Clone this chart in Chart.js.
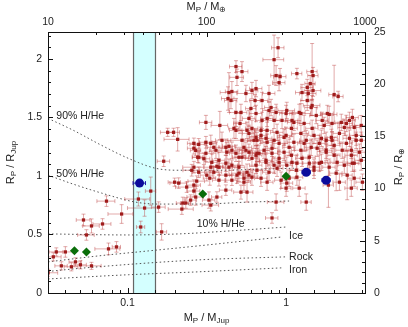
<!DOCTYPE html>
<html>
<head>
<meta charset="utf-8">
<script src="https://cdn.jsdelivr.net/npm/chart.js@4.4.1/dist/chart.umd.min.js"></script>
<style>
html, body { margin: 0; padding: 0; background: #fff; }
canvas { display: block; }
</style>
</head>
<body>
<canvas id="massRadius" width="408" height="327"></canvas>
<script>

// ==========================
// DATA
// ==========================

// axis ranges (Jupiter units bottom/left, Earth units top/right)
const massRangeJup = [0.03147, 3.147];
const massRangeEarth = [10, 1000];
const radiusRangeJup = [0, 2.2304];
const radiusRangeEarth = [0, 25];

const bottomTickLabels = [0.1, 1];
const topTickLabels = [10, 100, 1000];
const leftTickLabels = [0, 0.5, 1, 1.5, 2];
const rightTickLabels = [0, 5, 10, 15, 20, 25];

// shaded mass window (M_Jup)
const bandMass = [0.109, 0.150];

// [mass M_Jup, radius R_Jup, mass error (fraction), radius error R_Jup]
const transitPlanets = [
    [0.0315,0.173,0.15,0.03],[0.034,0.309,0.12,0.035],[0.0355,0.351,0.10,0.035],
    [0.0405,0.351,0.12,0.045],[0.0382,0.232,0.09,0.035],[0.0442,0.224,0.10,0.035],
    [0.0469,0.266,0.09,0.035],[0.0504,0.241,0.09,0.035],[0.0592,0.232,0.15,0.03],
    [0.0527,0.624,0.10,0.05],[0.0592,0.573,0.12,0.06],[0.0695,0.590,0.13,0.045],
    [0.055,0.496,0.12,0.045],[0.0736,0.785,0.13,0.045],[0.0917,0.675,0.18,0.08],
    [0.0758,0.377,0.18,0.05],[0.0851,0.394,0.06,0.045],[0.117,0.803,0.18,0.06],
    [0.128,0.726,0.22,0.07],[0.140,0.871,0.075,0.12],[0.121,0.564,0.06,0.05],
    [0.164,0.522,0.075,0.07],[0.157,0.734,0.10,0.045],[0.169,1.126,0.09,0.045],
    [0.179,1.373,0.10,0.035],[0.195,1.373,0.09,0.035],[0.207,1.313,0.18,0.10],
    [0.262,1.279,0.09,0.045],[0.269,1.219,0.075,0.045],[0.277,1.160,0.075,0.045],
    [0.262,1.075,0.15,0.05],[0.198,0.947,0.09,0.035],[0.210,0.939,0.12,0.045],
    [0.236,0.905,0.15,0.045],[0.262,0.922,0.10,0.045],[0.269,0.820,0.12,0.07],
    [0.220,0.717,0.18,0.045],[0.233,0.769,0.075,0.045],[0.250,0.794,0.09,0.045],
    [0.223,0.769,0.09,0.05],[0.273,0.956,0.12,0.045],[0.312,1.458,0.09,0.06],
    [0.382,1.432,0.12,0.12],[0.330,0.981,0.09,0.06],[0.316,1.007,0.09,0.05],
    [0.335,0.751,0.12,0.05],[0.326,0.794,0.09,0.07],[0.366,0.820,0.075,0.045],
    [0.417,0.879,0.09,0.045],[0.254,1.049,0.12,0.05],[0.281,1.032,0.09,0.045],
    [0.377,0.964,0.09,0.05],[0.350,1.032,0.12,0.05],[0.377,1.075,0.075,0.07],
    [0.417,1.007,0.09,0.06],[0.436,1.075,0.09,0.07],[0.490,1.007,0.10,0.07],
    [0.542,0.981,0.12,0.06],[0.583,1.007,0.09,0.05],[0.504,1.075,0.09,0.05],
    [0.455,0.964,0.09,0.045],[0.504,1.024,0.10,0.07],[0.567,1.032,0.09,0.07],
    [0.609,0.990,0.09,0.07],[0.542,0.947,0.10,0.07],[0.519,0.862,0.10,0.06],
    [0.567,0.862,0.09,0.085],[0.646,1.092,0.09,0.07],[0.455,1.092,0.09,0.045],
    [0.423,1.203,0.12,0.085],[0.483,1.194,0.09,0.07],[0.527,1.160,0.10,0.07],
    [0.583,1.203,0.09,0.07],[0.646,1.177,0.09,0.08],[0.417,1.245,0.10,0.07],
    [0.542,1.245,0.12,0.07],[0.281,1.270,0.12,0.05],[0.312,1.288,0.09,0.05],
    [0.350,1.245,0.09,0.05],[0.436,1.254,0.09,0.05],[0.527,1.305,0.15,0.085],
    [0.469,1.407,0.075,0.085],[0.512,1.449,0.09,0.085],[0.567,1.390,0.12,0.07],
    [0.609,1.407,0.09,0.07],[0.646,1.330,0.09,0.07],[0.483,1.935,0.09,0.05],
    [0.527,1.892,0.09,0.085],[0.490,1.843,0.10,0.07],[0.436,1.713,0.12,0.17],
    [0.455,1.722,0.09,0.085],[0.558,1.705,0.12,0.07],[0.609,1.730,0.09,0.07],
    [0.646,1.747,0.09,0.07],[0.430,1.662,0.09,0.10],[0.449,1.645,0.09,0.07],
    [0.600,1.577,0.075,0.07],[0.637,1.645,0.075,0.05],[0.483,1.543,0.09,0.12],
    [0.519,1.543,0.09,0.07],[0.890,2.096,0.09,0.085],[0.840,1.994,0.15,0.21],
    [0.865,1.858,0.075,0.085],[0.916,1.849,0.09,0.07],[0.903,1.798,0.09,0.07],
    [1.17,1.875,0.075,0.045],[1.46,1.892,0.075,0.24],[1.48,1.858,0.075,0.07],
    [1.42,1.790,0.075,0.07],[1.36,1.756,0.09,0.07],[1.26,1.713,0.09,0.07],
    [1.38,1.705,0.12,0.07],[1.48,1.730,0.12,0.05],[2.01,1.696,0.075,0.25],
    [2.13,1.679,0.075,0.045],[0.780,1.705,0.09,0.07],[0.705,1.645,0.09,0.07],
    [0.804,1.585,0.09,0.07],[1.01,1.560,0.12,0.07],[0.865,1.543,0.09,0.07],
    [1.36,1.645,0.09,0.085],[1.46,1.603,0.12,0.085],[1.24,1.534,0.15,0.085],
    [1.87,1.526,0.12,0.07],[0.759,1.492,0.09,0.07],[0.840,1.475,0.09,0.07],
    [0.943,1.475,0.09,0.07],[1.12,1.458,0.09,0.07],[1.30,1.449,0.09,0.07],
    [1.46,1.407,0.09,0.07],[1.74,1.432,0.09,0.07],[2.23,1.458,0.09,0.07],
    [2.33,1.415,0.09,0.07],[2.69,1.415,0.09,0.07],[2.51,1.475,0.09,0.07],
    [2.98,1.432,0.09,0.085],[0.695,1.390,0.09,0.07],[0.759,1.390,0.09,0.07],
    [0.877,1.373,0.09,0.07],[1.00,1.347,0.09,0.07],[1.08,1.407,0.09,0.07],
    [1.24,1.364,0.12,0.07],[1.34,1.305,0.09,0.085],[1.50,1.347,0.09,0.07],
    [1.67,1.322,0.09,0.07],[1.79,1.305,0.09,0.07],[1.93,1.330,0.09,0.07],
    [2.17,1.364,0.09,0.085],[2.51,1.322,0.09,0.07],[2.77,1.347,0.09,0.085],
    [2.98,1.305,0.09,0.07],[0.655,1.305,0.09,0.07],[0.747,1.322,0.09,0.07],
    [0.840,1.305,0.09,0.07],[1.12,1.288,0.09,0.07],[1.44,1.245,0.09,0.07],
    [2.01,1.262,0.09,0.07],[2.40,1.279,0.09,0.07],[0.655,1.194,0.09,0.07],
    [0.726,1.220,0.09,0.07],[0.815,1.237,0.09,0.07],[0.903,1.151,0.09,0.07],
    [0.971,1.203,0.09,0.07],[1.08,1.177,0.09,0.07],[1.24,1.220,0.09,0.07],
    [1.40,1.160,0.09,0.07],[1.57,1.237,0.09,0.07],[1.79,1.203,0.09,0.07],
    [2.01,1.177,0.09,0.07],[2.26,1.220,0.09,0.07],[2.58,1.177,0.09,0.07],
    [2.90,1.203,0.09,0.07],[2.98,1.134,0.09,0.085],[2.62,1.109,0.09,0.07],
    [2.33,1.092,0.09,0.07],[2.10,1.117,0.09,0.07],[1.87,1.075,0.09,0.07],
    [1.67,1.117,0.09,0.07],[1.50,1.075,0.09,0.07],[1.17,1.109,0.09,0.07],
    [1.01,1.092,0.09,0.07],[0.840,1.092,0.09,0.07],[0.747,1.117,0.09,0.07],
    [0.655,1.049,0.09,0.07],[0.780,1.032,0.09,0.07],[0.877,1.066,0.09,0.07],
    [1.16,1.049,0.09,0.07],[0.695,0.981,0.09,0.07],[0.759,0.947,0.09,0.07],
    [0.930,0.964,0.09,0.07],[1.01,0.939,0.09,0.07],[1.00,0.896,0.075,0.07],
    [1.21,0.896,0.09,0.07],[2.43,1.007,0.075,0.21],[2.69,0.981,0.09,0.07],
    [3.03,0.947,0.09,0.07],[2.58,0.896,0.09,0.07],[2.17,0.947,0.09,0.07],
    [0.865,0.777,0.12,0.07],[1.34,0.777,0.075,0.07],[0.815,0.641,0.09,0.045],
    [1.50,1.049,0.09,0.07],[1.62,1.109,0.09,0.07],[2.07,1.024,0.09,0.15],
    [2.69,1.109,0.09,0.07],[1.045,0.981,0.09,0.07],[1.17,0.990,0.09,0.07],
    [0.303,1.147,0.09,0.05],[0.335,1.075,0.09,0.05],[0.366,1.083,0.09,0.05],
    [0.262,1.237,0.09,0.05],[0.281,1.160,0.09,0.05],[0.583,1.492,0.09,0.07],
    [0.646,1.534,0.09,0.07],[0.705,1.475,0.09,0.07],[0.780,1.560,0.09,0.07],
    [1.00,1.534,0.09,0.07],[1.09,1.475,0.09,0.07],[1.21,1.543,0.09,0.07],
    [1.44,1.585,0.09,0.07],[1.55,1.517,0.09,0.07],[1.69,1.475,0.09,0.07],
    [1.82,1.534,0.09,0.07],[1.95,1.449,0.09,0.07],[2.40,1.449,0.09,0.07],
    [2.62,1.500,0.09,0.07],[0.483,1.390,0.09,0.07],[0.583,1.364,0.09,0.07],
    [0.627,1.305,0.09,0.07],[0.695,1.347,0.09,0.07],[0.759,1.288,0.09,0.07],
    [0.903,1.279,0.09,0.07],[0.971,1.330,0.09,0.07],[1.045,1.245,0.09,0.07],
    [1.30,1.279,0.09,0.07],[1.62,1.279,0.09,0.07],[1.79,1.220,0.09,0.07],
    [1.95,1.305,0.09,0.07],[2.58,1.220,0.09,0.07],[2.77,1.305,0.09,0.07],
    [0.455,1.220,0.09,0.07],[0.504,1.160,0.09,0.07],[0.558,1.220,0.09,0.07],
    [0.609,1.151,0.09,0.07],[0.675,1.194,0.09,0.07],[0.747,1.134,0.09,0.07],
    [0.815,1.194,0.09,0.07],[0.903,1.117,0.09,0.07],[1.09,1.117,0.09,0.07],
    [1.26,1.151,0.09,0.07],[1.40,1.109,0.09,0.07],[0.394,1.305,0.09,0.07],
    [0.361,1.220,0.09,0.07],[0.335,1.279,0.09,0.07],[0.377,1.134,0.09,0.07],
    [0.417,1.109,0.09,0.07],[0.340,1.117,0.09,0.07],[0.312,1.194,0.09,0.07],
    [0.262,0.871,0.09,0.05],[1.85,0.922,0.075,0.19]
];

// highlighted planets
const bluePlanets = [
    [0.119, 0.939, 0.09, 0.02],
    [1.34, 1.032, 0.06, 0.02],
    [1.79, 0.964, 0.06, 0.02]
];

const greenPlanets = [
    [0.0462, 0.360],
    [0.0550, 0.351],
    [0.298, 0.845],
    [1.00, 0.998]
];

// model curves [mass M_Jup, radius R_Jup]
const curve90HHe = [[0.0315,1.492],[0.0455,1.39],[0.0685,1.262],[0.101,1.151],[0.150,1.066],[0.210,1.049],[0.377,1.049],[0.675,1.058],[1.12,1.066]];
const curve50HHe = [[0.0315,1.007],[0.0455,0.930],[0.0685,0.854],[0.112,0.777],[0.157,0.760],[0.281,0.760],[0.583,0.777],[1.045,0.786]];
const curve10HHe = [[0.0315,0.505],[0.101,0.496],[0.210,0.505],[0.436,0.530],[1.00,0.564]];
const curveIce = [[0.0315,0.266],[0.0655,0.317],[0.136,0.360],[0.281,0.403],[0.943,0.479]];
const curveRock = [[0.0315,0.184],[0.0542,0.215],[0.281,0.283],[1.00,0.309]];
const curveIron = [[0.0315,0.12],[0.101,0.156],[0.281,0.181],[0.943,0.215]];

const curveLabels = [
    ["90% H/He", 0.0355, 1.509],
    ["50% H/He", 0.0355, 1.02],
    ["10% H/He", 0.273, 0.590],
    ["Ice", 1.045, 0.488],
    ["Rock", 1.045, 0.309],
    ["Iron", 1.045, 0.198]
];



// ==========================
// HELPERS
// ==========================

const FONT = "'Liberation Sans', Arial, Helvetica, sans-serif";

function toPoints(rows) {
    return rows.map(r => ({ x: r[0], y: r[1] }));
}

function curveDataset(rows) {
    return {
        type: "line",
        data: toPoints(rows),
        showLine: true,
        borderColor: "#555",
        borderWidth: 1,
        borderDash: [1.5, 2.5],
        pointRadius: 0,
        cubicInterpolationMode: "monotone",
        fill: false,
        order: 5
    };
}

function sameValue(a, b) {
    return Math.abs(a - b) <= 1e-6 * Math.max(Math.abs(a), Math.abs(b), 1e-9);
}

// draws "M_P / M_Jup" style text, parts = [text, isSubscript]
function drawSubText(ctx, parts, cx, cy, angle) {

    const big = "11px " + FONT;
    const small = "8px " + FONT;

    let width = 0;
    parts.forEach(p => {
        ctx.font = p[1] ? small : big;
        width += ctx.measureText(p[0]).width;
    });

    ctx.save();
    ctx.translate(cx, cy);
    ctx.rotate(angle);
    ctx.fillStyle = "#222";
    ctx.textBaseline = "middle";
    ctx.textAlign = "left";

    let x = -width / 2;
    parts.forEach(p => {
        ctx.font = p[1] ? small : big;
        ctx.fillText(p[0], x, p[1] ? 3 : 0);
        x += ctx.measureText(p[0]).width;
    });
    ctx.restore();
}



// ==========================
// PLUGINS
// ==========================

const bandPlugin = {
    id: "massBand",
    beforeDatasetsDraw(chart) {
        const ctx = chart.ctx;
        const area = chart.chartArea;
        const xs = chart.scales.x;
        const x0 = xs.getPixelForValue(bandMass[0]);
        const x1 = xs.getPixelForValue(bandMass[1]);

        ctx.save();
        ctx.fillStyle = "#d4ffff";
        ctx.fillRect(x0, area.top, x1 - x0, area.bottom - area.top);
        ctx.strokeStyle = "#666";
        ctx.lineWidth = 1.2;
        ctx.beginPath();
        ctx.moveTo(x0, area.top);
        ctx.lineTo(x0, area.bottom);
        ctx.moveTo(x1, area.top);
        ctx.lineTo(x1, area.bottom);
        ctx.stroke();
        ctx.restore();
    }
};

const errorBarPlugin = {
    id: "errorBars",
    beforeDatasetDraw(chart, args) {
        const ds = chart.data.datasets[args.index];
        if (!ds.errorRows) {
            return;
        }
        const ctx = chart.ctx;
        const area = chart.chartArea;
        const xs = chart.scales.x;
        const ys = chart.scales.y;
        const cap = 2;

        ctx.save();
        ctx.beginPath();
        ctx.rect(area.left, area.top, area.right - area.left, area.bottom - area.top);
        ctx.clip();
        ctx.lineWidth = 1;
        ctx.strokeStyle = ds.errorColor;

        ds.errorRows.forEach(row => {
            const px = xs.getPixelForValue(row[0]);
            const py = ys.getPixelForValue(row[1]);
            const xa = xs.getPixelForValue(row[0] * (1 - row[2]));
            const xb = xs.getPixelForValue(row[0] * (1 + row[2]));
            const ya = ys.getPixelForValue(row[1] - row[3]);
            const yb = ys.getPixelForValue(row[1] + row[3]);

            ctx.beginPath();
            ctx.moveTo(xa, py); ctx.lineTo(xb, py);
            ctx.moveTo(xa, py - cap); ctx.lineTo(xa, py + cap);
            ctx.moveTo(xb, py - cap); ctx.lineTo(xb, py + cap);
            ctx.moveTo(px, ya); ctx.lineTo(px, yb);
            ctx.moveTo(px - cap, ya); ctx.lineTo(px + cap, ya);
            ctx.moveTo(px - cap, yb); ctx.lineTo(px + cap, yb);
            ctx.stroke();
        });
        ctx.restore();
    }
};

const framePlugin = {
    id: "frameAndTicks",
    afterDatasetsDraw(chart) {
        const ctx = chart.ctx;
        const area = chart.chartArea;
        const s = chart.scales;

        ctx.save();

        // curve labels
        ctx.fillStyle = "#222";
        ctx.font = "10.5px " + FONT;
        ctx.textBaseline = "middle";
        ctx.textAlign = "left";
        curveLabels.forEach(l => {
            ctx.fillText(l[0], s.x.getPixelForValue(l[1]), s.y.getPixelForValue(l[2]));
        });

        ctx.strokeStyle = "#111";
        ctx.lineWidth = 1;
        ctx.beginPath();

        // log ticks, bottom and top
        [[s.x, area.bottom, -1, bottomTickLabels], [s.x2, area.top, 1, topTickLabels]].forEach(cfg => {
            const scale = cfg[0];
            scale.ticks.forEach(t => {
                const major = cfg[3].some(v => sameValue(v, t.value));
                const len = major ? 5 : 3;
                const px = Math.round(scale.getPixelForValue(t.value)) + 0.5;
                if (px < area.left || px > area.right + 1) return;
                ctx.moveTo(px, cfg[1]);
                ctx.lineTo(px, cfg[1] + cfg[2] * len);
            });
        });

        // linear ticks, left and right
        for (let i = 0; i <= 22; i++) {
            const v = i / 10;
            const py = Math.round(s.y.getPixelForValue(v)) + 0.5;
            const len = (i % 5 === 0) ? 5 : 3;
            ctx.moveTo(area.left, py);
            ctx.lineTo(area.left + len, py);
        }
        for (let i = 0; i <= 25; i++) {
            const py = Math.round(s.y2.getPixelForValue(i)) + 0.5;
            const len = (i % 5 === 0) ? 5 : 3;
            ctx.moveTo(area.right, py);
            ctx.lineTo(area.right - len, py);
        }
        ctx.stroke();

        // frame
        ctx.strokeRect(Math.round(area.left) + 0.5, Math.round(area.top) + 0.5,
            Math.round(area.right - area.left), Math.round(area.bottom - area.top));
        ctx.restore();
    },
    afterDraw(chart) {
        const ctx = chart.ctx;
        const area = chart.chartArea;
        const cx = (area.left + area.right) / 2;
        const cy = (area.top + area.bottom) / 2;

        drawSubText(ctx, [["M", false], ["P", true], [" / M", false], ["Jup", true]], cx, 318, 0);
        drawSubText(ctx, [["M", false], ["P", true], [" / M", false], ["\u2295", true]], cx, 7, 0);
        drawSubText(ctx, [["R", false], ["P", true], [" / R", false], ["Jup", true]], 11, cy, -Math.PI / 2);
        drawSubText(ctx, [["R", false], ["P", true], [" / R", false], ["\u2295", true]], 399, cy + 4, -Math.PI / 2);
    }
};



// ==========================
// CHART
// ==========================

const tickFont = { family: FONT, size: 10.5 };

function labelFrom(list) {
    return function (value) {
        const hit = list.find(v => sameValue(v, value));
        return hit === undefined ? "" : String(hit);
    };
}

// no chart.js grid or tick marks, ticks are drawn by framePlugin
const noGrid = { display: false, drawTicks: false };

const ctxCanvas = document.getElementById("massRadius");

new Chart(ctxCanvas, {

    type: "scatter",

    data: {
        datasets: [
            curveDataset(curve90HHe),
            curveDataset(curve50HHe),
            curveDataset(curve10HHe),
            curveDataset(curveIce),
            curveDataset(curveRock),
            curveDataset(curveIron),
            {
                data: toPoints(transitPlanets),
                errorRows: transitPlanets,
                errorColor: "rgba(185, 55, 55, 0.42)",
                pointStyle: "rect",
                pointRadius: 2.3,
                backgroundColor: "#a01c1c",
                borderColor: "#a01c1c",
                borderWidth: 0,
                order: 3
            },
            {
                data: toPoints(bluePlanets),
                errorRows: bluePlanets,
                errorColor: "#1a1aa8",
                pointStyle: "circle",
                pointRadius: 4.5,
                backgroundColor: "#0c0c9c",
                borderColor: "#0c0c9c",
                borderWidth: 0,
                order: 1
            },
            {
                data: toPoints(greenPlanets),
                pointStyle: "rectRot",
                pointRadius: 4.5,
                backgroundColor: "#0a6e0a",
                borderColor: "#0a6e0a",
                borderWidth: 0,
                order: 0
            }
        ]
    },

    options: {

        responsive: false,
        animation: false,
        events: [],

        layout: { padding: 0 },

        plugins: {
            legend: { display: false },
            tooltip: { enabled: false }
        },

        scales: {

            x: {
                type: "logarithmic",
                position: "bottom",
                min: massRangeJup[0],
                max: massRangeJup[1],
                grid: noGrid,
                border: { display: false },
                ticks: {
                    autoSkip: false, maxRotation: 0, padding: 4,
                    color: "#222", font: tickFont,
                    callback: labelFrom(bottomTickLabels)
                },
                afterFit: scale => { scale.height = 34; }
            },

            x2: {
                type: "logarithmic",
                position: "top",
                min: massRangeEarth[0],
                max: massRangeEarth[1],
                grid: noGrid,
                border: { display: false },
                ticks: {
                    autoSkip: false, maxRotation: 0, padding: 4,
                    color: "#222", font: tickFont,
                    callback: labelFrom(topTickLabels)
                },
                afterFit: scale => { scale.height = 32; }
            },

            y: {
                type: "linear",
                position: "left",
                min: radiusRangeJup[0],
                max: radiusRangeJup[1],
                grid: noGrid,
                border: { display: false },
                ticks: {
                    stepSize: 0.5, includeBounds: false, padding: 6,
                    color: "#222", font: tickFont,
                    callback: labelFrom(leftTickLabels)
                },
                afterFit: scale => { scale.width = 48; }
            },

            y2: {
                type: "linear",
                position: "right",
                min: radiusRangeEarth[0],
                max: radiusRangeEarth[1],
                grid: noGrid,
                border: { display: false },
                ticks: {
                    stepSize: 5, includeBounds: false, padding: 9,
                    color: "#222", font: tickFont,
                    callback: labelFrom(rightTickLabels)
                },
                afterFit: scale => { scale.width = 43; }
            }
        }
    },

    plugins: [bandPlugin, errorBarPlugin, framePlugin]
});

</script>
</body>
</html>
